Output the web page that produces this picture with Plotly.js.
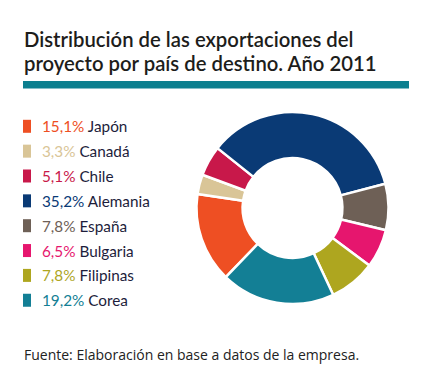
<!DOCTYPE html>
<html><head><meta charset="utf-8">
<script src="https://cdn.plot.ly/plotly-3.0.1.min.js"></script>
<style>html,body{margin:0;padding:0;background:#fff}#chart{width:433px;height:390px}</style>
</head><body><div id="chart"></div>
<script>
const countries = ["Japón","Canadá","Chile","Alemania","España","Bulgaria","Filipinas","Corea"];
const shares = [15.1, 3.3, 5.1, 35.2, 7.8, 6.5, 7.8, 19.2];
const shareLabels = ["15,1%","3,3%","5,1%","35,2%","7,8%","6,5%","7,8%","19,2%"];
const colors = ["#ee4f23","#d9c597","#c8184a","#0a3a75","#6e6056","#e6166e","#aea61f","#137f95"];
const titleLines = ["Distribución de las exportaciones del","proyecto por país de destino. Año 2011"];
const sourceText = "Fuente: Elaboración en base a datos de la empresa.";

const W = 433, H = 390;
const px = v => v / W;
const py = v => 1 - v / H;
const FONT = "Lato, 'Open Sans', sans-serif";

const annotations = [];
const shapes = [];

titleLines.forEach((t, i) => {
  annotations.push({text: t, xref: "paper", yref: "paper", x: px(22), y: py(39 + i * 24),
    xanchor: "left", yanchor: "middle", showarrow: false,
    font: {family: FONT, size: 20.3, color: "#1d1d1b", weight: 600}});
});
shapes.push({type: "rect", xref: "paper", yref: "paper", x0: px(23), x1: px(409), y0: py(81), y1: py(88.5),
  fillcolor: "#0c7f8f", line: {width: 0}});

countries.forEach((c, i) => {
  const yc = 126.3 + i * 24.85;
  shapes.push({type: "rect", xref: "paper", yref: "paper", x0: px(23), x1: px(31), y0: py(yc - 6.5), y1: py(yc + 6.5),
    fillcolor: colors[i], line: {width: 0}});
  annotations.push({text: `<span style="color:${colors[i]}">${shareLabels[i]}</span> ${c}`,
    xref: "paper", yref: "paper", x: px(40), y: py(yc), xanchor: "left", yanchor: "middle", showarrow: false,
    font: {family: FONT, size: 15.3, color: "#1d1d3b"}});
});

annotations.push({text: sourceText, xref: "paper", yref: "paper", x: px(22), y: py(354.5),
  xanchor: "left", yanchor: "middle", showarrow: false,
  font: {family: "'Open Sans', Lato, sans-serif", size: 14, color: "#222"}});

const cx = 292.5, cy = 208, r = 96;
const data = [{
  type: "pie", labels: countries, values: shares, sort: false, direction: "clockwise",
  rotation: 224, hole: 0.52, textinfo: "none", hoverinfo: "label+percent",
  marker: {colors: colors, line: {color: "#ffffff", width: 2.5}},
  domain: {x: [px(cx - r), px(cx + r)], y: [1 - (cy + r) / H, 1 - (cy - r) / H]}
}];

const layout = {
  width: W, height: H, margin: {l: 0, r: 0, t: 0, b: 0},
  paper_bgcolor: "#fff", plot_bgcolor: "#fff", showlegend: false,
  annotations: annotations, shapes: shapes
};
Plotly.newPlot("chart", data, layout, {displayModeBar: false, staticPlot: true});
</script></body></html>
